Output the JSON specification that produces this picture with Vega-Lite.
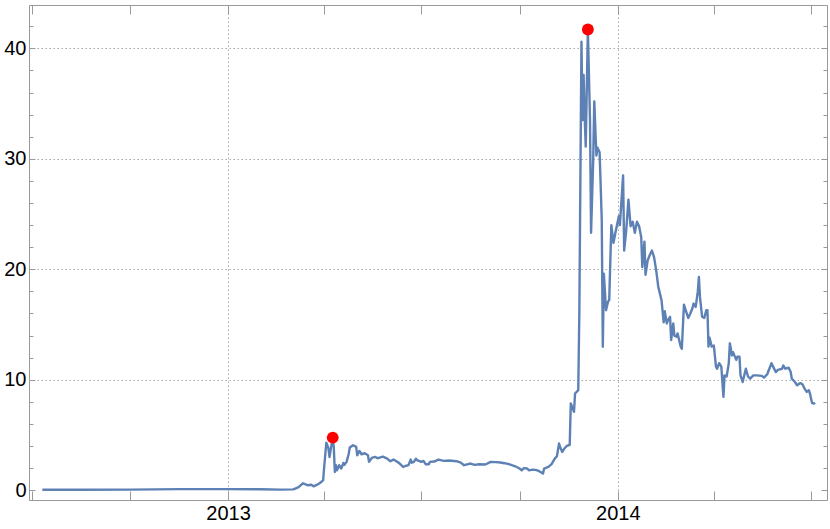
{
  "$schema": "https://vega.github.io/schema/vega-lite/v6.json",
  "width": 798,
  "height": 495,
  "autosize": "none",
  "padding": {"left": 29, "top": 5, "right": 3, "bottom": 29},
  "background": "white",
  "config": {
    "view": {"stroke": "#999999", "strokeWidth": 1},
    "axis": {"domain": false, "tickColor": "#999999", "labelFont": "Liberation Sans", "labelFontSize": 20, "labelColor": "#000000", "gridColor": "#a8a8a8", "gridDash": [1.5, 2.5], "gridWidth": 1}
  },
  "datasets": {
    "series": [
      {"date": "2012-07-11", "price": 0.05},
      {"date": "2012-08-15", "price": 0.05},
      {"date": "2012-10-01", "price": 0.06},
      {"date": "2012-11-17", "price": 0.1},
      {"date": "2013-01-01", "price": 0.1},
      {"date": "2013-01-31", "price": 0.09},
      {"date": "2013-02-19", "price": 0.06},
      {"date": "2013-03-03", "price": 0.08},
      {"date": "2013-03-06", "price": 0.2},
      {"date": "2013-03-08", "price": 0.28},
      {"date": "2013-03-12", "price": 0.63},
      {"date": "2013-03-14", "price": 0.55},
      {"date": "2013-03-17", "price": 0.45},
      {"date": "2013-03-20", "price": 0.5},
      {"date": "2013-03-22", "price": 0.36},
      {"date": "2013-03-25", "price": 0.48},
      {"date": "2013-03-28", "price": 0.66},
      {"date": "2013-03-31", "price": 0.9},
      {"date": "2013-04-01", "price": 2.1},
      {"date": "2013-04-03", "price": 4.3},
      {"date": "2013-04-05", "price": 3.8},
      {"date": "2013-04-06", "price": 3.0},
      {"date": "2013-04-08", "price": 4.2},
      {"date": "2013-04-09", "price": 4.75},
      {"date": "2013-04-10", "price": 3.9},
      {"date": "2013-04-11", "price": 1.66},
      {"date": "2013-04-12", "price": 2.27},
      {"date": "2013-04-13", "price": 1.8},
      {"date": "2013-04-15", "price": 2.27},
      {"date": "2013-04-17", "price": 1.97},
      {"date": "2013-04-19", "price": 2.48},
      {"date": "2013-04-20", "price": 2.3},
      {"date": "2013-04-22", "price": 2.57},
      {"date": "2013-04-24", "price": 3.3},
      {"date": "2013-04-25", "price": 3.87},
      {"date": "2013-04-28", "price": 4.08},
      {"date": "2013-05-01", "price": 3.93},
      {"date": "2013-05-02", "price": 3.17},
      {"date": "2013-05-04", "price": 3.56},
      {"date": "2013-05-06", "price": 3.26},
      {"date": "2013-05-09", "price": 3.35},
      {"date": "2013-05-12", "price": 3.17},
      {"date": "2013-05-13", "price": 2.57},
      {"date": "2013-05-16", "price": 2.96},
      {"date": "2013-05-19", "price": 3.02},
      {"date": "2013-05-21", "price": 2.9},
      {"date": "2013-05-23", "price": 2.96},
      {"date": "2013-05-26", "price": 3.05},
      {"date": "2013-05-30", "price": 2.87},
      {"date": "2013-06-02", "price": 2.63},
      {"date": "2013-06-05", "price": 2.78},
      {"date": "2013-06-08", "price": 2.6},
      {"date": "2013-06-10", "price": 2.48},
      {"date": "2013-06-14", "price": 2.11},
      {"date": "2013-06-16", "price": 2.2},
      {"date": "2013-06-19", "price": 2.27},
      {"date": "2013-06-21", "price": 2.78},
      {"date": "2013-06-22", "price": 2.5},
      {"date": "2013-06-24", "price": 2.57},
      {"date": "2013-06-26", "price": 2.85},
      {"date": "2013-06-27", "price": 2.72},
      {"date": "2013-07-01", "price": 2.57},
      {"date": "2013-07-03", "price": 2.66},
      {"date": "2013-07-05", "price": 2.36},
      {"date": "2013-07-08", "price": 2.36},
      {"date": "2013-07-09", "price": 2.57},
      {"date": "2013-07-13", "price": 2.6},
      {"date": "2013-07-17", "price": 2.78},
      {"date": "2013-07-22", "price": 2.66},
      {"date": "2013-07-27", "price": 2.7},
      {"date": "2013-08-03", "price": 2.63},
      {"date": "2013-08-07", "price": 2.5},
      {"date": "2013-08-10", "price": 2.27},
      {"date": "2013-08-13", "price": 2.35},
      {"date": "2013-08-16", "price": 2.42},
      {"date": "2013-08-20", "price": 2.3},
      {"date": "2013-08-24", "price": 2.36},
      {"date": "2013-08-30", "price": 2.33},
      {"date": "2013-09-04", "price": 2.57},
      {"date": "2013-09-09", "price": 2.55},
      {"date": "2013-09-13", "price": 2.51},
      {"date": "2013-09-17", "price": 2.45},
      {"date": "2013-09-21", "price": 2.36},
      {"date": "2013-09-27", "price": 2.17},
      {"date": "2013-10-01", "price": 1.97},
      {"date": "2013-10-03", "price": 1.81},
      {"date": "2013-10-05", "price": 2.0},
      {"date": "2013-10-08", "price": 1.97},
      {"date": "2013-10-10", "price": 1.8},
      {"date": "2013-10-13", "price": 1.87},
      {"date": "2013-10-16", "price": 1.85},
      {"date": "2013-10-19", "price": 1.75},
      {"date": "2013-10-23", "price": 1.51},
      {"date": "2013-10-24", "price": 1.97},
      {"date": "2013-10-28", "price": 2.11},
      {"date": "2013-10-31", "price": 2.36},
      {"date": "2013-11-03", "price": 2.87},
      {"date": "2013-11-05", "price": 3.08},
      {"date": "2013-11-07", "price": 4.23},
      {"date": "2013-11-08", "price": 3.92},
      {"date": "2013-11-10", "price": 3.47},
      {"date": "2013-11-12", "price": 3.78},
      {"date": "2013-11-14", "price": 3.99},
      {"date": "2013-11-16", "price": 4.08},
      {"date": "2013-11-17", "price": 4.1},
      {"date": "2013-11-18", "price": 7.85},
      {"date": "2013-11-21", "price": 7.1},
      {"date": "2013-11-22", "price": 8.76},
      {"date": "2013-11-25", "price": 9.06},
      {"date": "2013-11-26", "price": 16.0},
      {"date": "2013-11-28", "price": 40.6},
      {"date": "2013-11-29", "price": 33.5},
      {"date": "2013-11-30", "price": 37.6},
      {"date": "2013-12-01", "price": 33.8},
      {"date": "2013-12-02", "price": 31.1},
      {"date": "2013-12-04", "price": 41.7},
      {"date": "2013-12-06", "price": 33.5},
      {"date": "2013-12-07", "price": 23.3},
      {"date": "2013-12-09", "price": 29.9},
      {"date": "2013-12-10", "price": 35.2},
      {"date": "2013-12-12", "price": 30.3},
      {"date": "2013-12-13", "price": 31.0},
      {"date": "2013-12-15", "price": 30.6},
      {"date": "2013-12-17", "price": 24.5},
      {"date": "2013-12-18", "price": 13.0},
      {"date": "2013-12-19", "price": 19.6},
      {"date": "2013-12-21", "price": 16.3},
      {"date": "2013-12-23", "price": 17.1},
      {"date": "2013-12-24", "price": 17.2},
      {"date": "2013-12-26", "price": 24.0},
      {"date": "2013-12-28", "price": 22.4},
      {"date": "2013-12-30", "price": 23.4},
      {"date": "2014-01-02", "price": 24.8},
      {"date": "2014-01-03", "price": 24.0},
      {"date": "2014-01-06", "price": 28.5},
      {"date": "2014-01-07", "price": 21.7},
      {"date": "2014-01-09", "price": 23.6},
      {"date": "2014-01-11", "price": 26.3},
      {"date": "2014-01-13", "price": 23.9},
      {"date": "2014-01-15", "price": 24.3},
      {"date": "2014-01-17", "price": 23.3},
      {"date": "2014-01-19", "price": 24.3},
      {"date": "2014-01-21", "price": 23.9},
      {"date": "2014-01-23", "price": 22.9},
      {"date": "2014-01-24", "price": 20.2},
      {"date": "2014-01-26", "price": 22.5},
      {"date": "2014-01-27", "price": 19.5},
      {"date": "2014-01-29", "price": 20.8},
      {"date": "2014-01-31", "price": 21.3},
      {"date": "2014-02-02", "price": 21.7},
      {"date": "2014-02-04", "price": 21.1},
      {"date": "2014-02-06", "price": 19.9},
      {"date": "2014-02-08", "price": 18.4},
      {"date": "2014-02-09", "price": 18.0},
      {"date": "2014-02-11", "price": 17.2},
      {"date": "2014-02-13", "price": 15.2},
      {"date": "2014-02-14", "price": 16.2},
      {"date": "2014-02-16", "price": 15.1},
      {"date": "2014-02-17", "price": 15.4},
      {"date": "2014-02-19", "price": 15.7},
      {"date": "2014-02-20", "price": 13.6},
      {"date": "2014-02-22", "price": 15.1},
      {"date": "2014-02-23", "price": 14.0},
      {"date": "2014-02-25", "price": 13.9},
      {"date": "2014-02-26", "price": 14.2},
      {"date": "2014-03-01", "price": 13.0},
      {"date": "2014-03-02", "price": 12.8},
      {"date": "2014-03-04", "price": 16.8},
      {"date": "2014-03-06", "price": 16.2},
      {"date": "2014-03-08", "price": 15.6},
      {"date": "2014-03-10", "price": 16.0},
      {"date": "2014-03-12", "price": 16.5},
      {"date": "2014-03-13", "price": 16.9},
      {"date": "2014-03-15", "price": 16.6},
      {"date": "2014-03-17", "price": 18.0},
      {"date": "2014-03-18", "price": 19.3},
      {"date": "2014-03-19", "price": 17.5},
      {"date": "2014-03-21", "price": 15.7},
      {"date": "2014-03-23", "price": 15.6},
      {"date": "2014-03-25", "price": 16.3},
      {"date": "2014-03-26", "price": 16.3},
      {"date": "2014-03-27", "price": 13.0},
      {"date": "2014-03-28", "price": 13.8},
      {"date": "2014-03-30", "price": 13.0},
      {"date": "2014-04-01", "price": 13.1},
      {"date": "2014-04-03", "price": 11.2},
      {"date": "2014-04-04", "price": 11.0},
      {"date": "2014-04-06", "price": 11.5},
      {"date": "2014-04-08", "price": 11.2},
      {"date": "2014-04-10", "price": 8.45},
      {"date": "2014-04-11", "price": 10.4},
      {"date": "2014-04-13", "price": 10.3},
      {"date": "2014-04-15", "price": 11.5},
      {"date": "2014-04-16", "price": 13.3},
      {"date": "2014-04-18", "price": 12.2},
      {"date": "2014-04-19", "price": 12.5},
      {"date": "2014-04-22", "price": 11.8},
      {"date": "2014-04-23", "price": 12.1},
      {"date": "2014-04-25", "price": 12.1},
      {"date": "2014-04-26", "price": 10.4},
      {"date": "2014-04-28", "price": 9.8},
      {"date": "2014-04-30", "price": 10.6},
      {"date": "2014-05-01", "price": 11.0},
      {"date": "2014-05-03", "price": 10.3},
      {"date": "2014-05-05", "price": 10.1},
      {"date": "2014-05-08", "price": 10.4},
      {"date": "2014-05-11", "price": 10.4},
      {"date": "2014-05-16", "price": 10.35},
      {"date": "2014-05-18", "price": 10.2},
      {"date": "2014-05-21", "price": 10.5},
      {"date": "2014-05-23", "price": 11.0},
      {"date": "2014-05-25", "price": 11.5},
      {"date": "2014-05-27", "price": 11.1},
      {"date": "2014-05-29", "price": 10.7},
      {"date": "2014-05-31", "price": 10.9},
      {"date": "2014-06-04", "price": 11.0},
      {"date": "2014-06-05", "price": 11.3},
      {"date": "2014-06-07", "price": 11.0},
      {"date": "2014-06-10", "price": 11.1},
      {"date": "2014-06-12", "price": 10.7},
      {"date": "2014-06-13", "price": 10.1},
      {"date": "2014-06-16", "price": 9.8},
      {"date": "2014-06-18", "price": 9.5},
      {"date": "2014-06-21", "price": 9.7},
      {"date": "2014-06-23", "price": 9.6},
      {"date": "2014-06-25", "price": 9.2},
      {"date": "2014-06-27", "price": 8.9},
      {"date": "2014-06-29", "price": 9.06},
      {"date": "2014-06-30", "price": 8.76},
      {"date": "2014-07-02", "price": 7.9},
      {"date": "2014-07-04", "price": 7.85},
      {"date": "2014-07-05", "price": 7.9}
    ],
    "peaks": [
      {"date": "2013-04-09", "price": 4.77},
      {"date": "2013-12-04", "price": 41.7}
    ]
  },
  "resolve": {"axis": {"x": "independent", "y": "independent"}},
  "layer": [
    {
      "data": {"name": "series"},
      "mark": {"type": "line", "color": "#5E81B5", "strokeWidth": 2.4, "strokeJoin": "round", "clip": true},
      "encoding": {
        "x": {
          "field": "date", "type": "temporal",
          "scale": {"type": "utc", "domain": [{"year": 2012, "month": 6, "date": 28, "hours": 12, "utc": true}, {"year": 2014, "month": 7, "date": 16, "utc": true}]},
          "axis": {
            "orient": "bottom", "title": null,
            "values": [
              {"year": 2012, "month": 7, "date": 1, "utc": true},
              {"year": 2012, "month": 10, "date": 1, "utc": true},
              {"year": 2013, "month": 1, "date": 1, "utc": true},
              {"year": 2013, "month": 4, "date": 1, "utc": true},
              {"year": 2013, "month": 7, "date": 1, "utc": true},
              {"year": 2013, "month": 10, "date": 1, "utc": true},
              {"year": 2014, "month": 1, "date": 1, "utc": true},
              {"year": 2014, "month": 4, "date": 1, "utc": true},
              {"year": 2014, "month": 7, "date": 1, "utc": true}
            ],
            "labelExpr": "utcmonth(datum.value) == 0 ? utcFormat(datum.value, '%Y') : ''",
            "labelFlush": false, "labelOverlap": false,
            "tickSize": -9, "labelPadding": 12,
            "grid": true,
            "gridOpacity": {"condition": {"test": "utcmonth(datum.value) == 0", "value": 1}, "value": 0}
          }
        },
        "y": {
          "field": "price", "type": "quantitative",
          "scale": {"domain": [-0.88, 43.92], "nice": false, "zero": false},
          "axis": {
            "orient": "left", "title": null,
            "values": [0, 2, 4, 6, 8, 10, 12, 14, 16, 18, 20, 22, 24, 26, 28, 30, 32, 34, 36, 38, 40, 42],
            "labelExpr": "datum.value % 10 == 0 ? datum.label : ''",
            "labelOverlap": false, "labelFlush": false,
            "tickSize": {"condition": {"test": "datum.value % 10 == 0", "value": -6}, "value": -4},
            "labelPadding": 9,
            "grid": true,
            "gridOpacity": {"condition": {"test": "datum.value % 10 == 0 && datum.value > 0", "value": 1}, "value": 0}
          }
        }
      }
    },
    {
      "data": {"name": "peaks"},
      "mark": {"type": "point", "filled": true, "color": "#FF0000", "size": 140, "opacity": 1},
      "encoding": {
        "x": {
          "field": "date", "type": "temporal",
          "axis": {
            "orient": "top", "title": null, "labels": false, "grid": false,
            "values": [
              {"year": 2012, "month": 7, "date": 1, "utc": true},
              {"year": 2012, "month": 10, "date": 1, "utc": true},
              {"year": 2013, "month": 1, "date": 1, "utc": true},
              {"year": 2013, "month": 4, "date": 1, "utc": true},
              {"year": 2013, "month": 7, "date": 1, "utc": true},
              {"year": 2013, "month": 10, "date": 1, "utc": true},
              {"year": 2014, "month": 1, "date": 1, "utc": true},
              {"year": 2014, "month": 4, "date": 1, "utc": true},
              {"year": 2014, "month": 7, "date": 1, "utc": true}
            ],
            "tickSize": -9
          }
        },
        "y": {
          "field": "price", "type": "quantitative",
          "axis": {
            "orient": "right", "title": null, "labels": false, "grid": false,
            "values": [0, 2, 4, 6, 8, 10, 12, 14, 16, 18, 20, 22, 24, 26, 28, 30, 32, 34, 36, 38, 40, 42],
            "tickSize": {"condition": {"test": "datum.value % 10 == 0", "value": -6}, "value": -4}
          }
        }
      }
    }
  ]
}
